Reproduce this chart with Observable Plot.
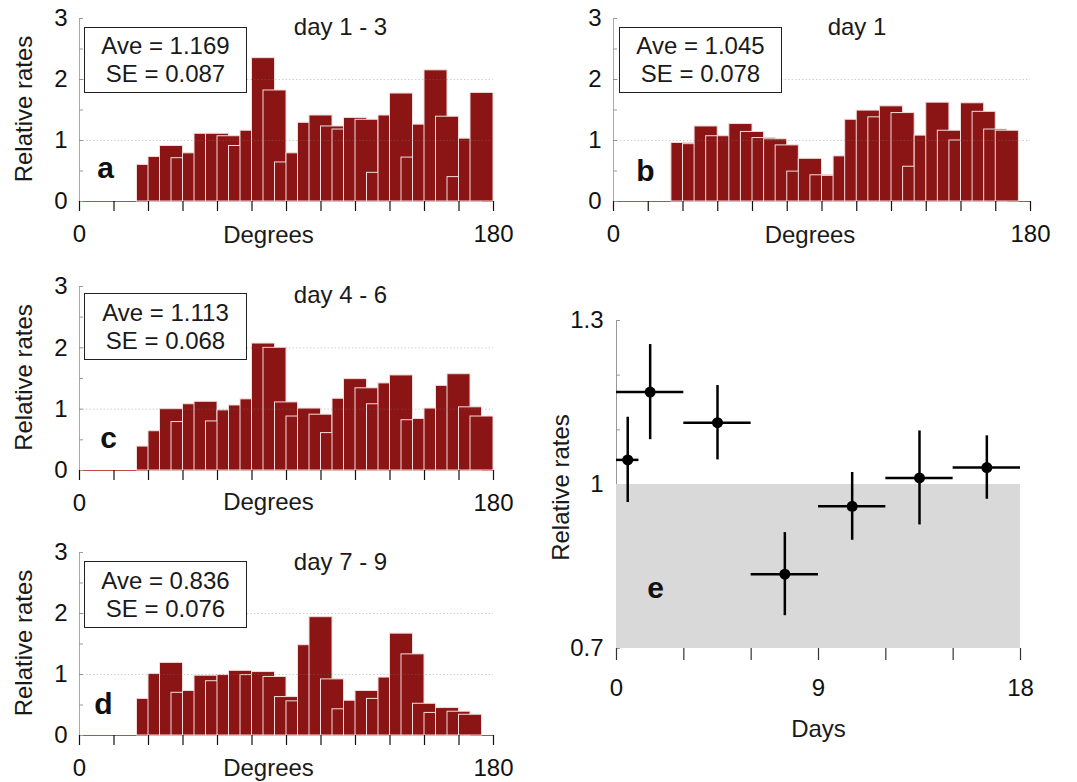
<!DOCTYPE html>
<html><head><meta charset="utf-8">
<script src="https://cdn.jsdelivr.net/npm/d3@7"></script>
<script src="https://cdn.jsdelivr.net/npm/@observablehq/plot@0.6"></script>
<style>
body{margin:0;background:#fff;}
#wrap{position:relative;width:1077px;height:782px;overflow:hidden;font-family:"Liberation Sans",Arial,sans-serif;background:#fff;}
#wrap svg{position:absolute;overflow:visible;}
.box{position:absolute;box-sizing:border-box;border:1.5px solid #222;background:#fff;display:flex;flex-direction:column;justify-content:center;align-items:center;font-size:24px;line-height:28px;color:#1a1a1a;}
</style></head><body><div id="wrap"></div>
<script>
// ---------- data ----------
const binStarts = [25,30,35,40,45,50,55,60,65,70,75,80,85,90,95,100,105,110,115,120,125,130,135,140,145,150,155,160,165,170];
const binWidth = 10;
const ratesA = [0.60,0.73,0.91,0.71,0.79,1.11,1.11,1.07,0.91,1.16,2.35,1.82,0.64,0.79,1.29,1.41,1.23,1.18,1.37,1.34,0.47,1.41,1.77,0.72,1.26,2.15,1.39,0.40,1.03,1.78];
const ratesB = [0.96,0.94,1.23,1.07,1.07,1.27,1.14,1.04,1.02,0.92,0.49,0.70,0.43,0.42,0.74,1.34,1.49,1.38,1.56,1.45,0.57,1.08,1.62,1.16,1.00,1.61,1.47,1.18,1.16];
const ratesC = [0.39,0.64,1.00,0.79,1.08,1.12,0.80,0.98,1.06,1.16,2.07,2.00,1.11,0.88,1.01,0.91,0.61,1.17,1.49,1.34,1.08,1.42,1.55,0.82,0.84,1.01,1.38,1.57,1.03,0.88];
const ratesD = [0.60,1.01,1.19,0.70,0.73,0.98,0.89,0.99,1.06,0.99,1.04,0.96,0.63,0.56,1.48,1.94,0.92,0.43,0.57,0.73,0.60,0.95,1.67,1.33,0.52,0.37,0.45,0.39,0.34];
const panelTitles = ["day 1 - 3","day 1","day 4 - 6","day 7 - 9"];
const panelLetters = ["a","b","c","d","e"];
const aveLabels = ["Ave = 1.169","Ave = 1.045","Ave = 1.113","Ave = 0.836"];
const seLabels = ["SE = 0.087","SE = 0.078","SE = 0.068","SE = 0.076"];
const degreeTicks = [0,15,30,45,60,75,90,105,120,135,150,165,180];
const degreeTickLabels = [0,180];
const rateTicks = [0,1,2,3];
const rateMinorTicks = [0,0.5,1,1.5,2,2.5,3];
const gridRates = [1,2];
// panel e
const periodStart = [0,0,3,6,9,12,15];
const periodEnd   = [1,3,6,9,12,15,18];
const periodRate  = [1.045,1.169,1.113,0.836,0.960,1.012,1.031];
const periodSE    = [0.078,0.087,0.068,0.076,0.062,0.086,0.058];
const dayTicks = [0,3,6,9,12,15,18];
const dayTickLabels = [0,9,18];
const eRateTicks = [0.7,1,1.3];
const eRateMinorTicks = [0.7,0.8,0.9,1.0,1.1,1.2,1.3];
const refBand = [{x1:0,x2:18,y1:0.7,y2:1.0}];

// ---------- layout ----------
const FONT = '"Liberation Sans", Arial, sans-serif';
const wrap = document.getElementById("wrap");
const layouts = [
  {rates: ratesA, left:0,   top:0,   w:540, h:262, ml:79, mr:47, mt:18, mb:61, ylab:true,  tdx:54, tdy:-1, ldx:26, ldy:-24, gdx:-18, gdy:41, box:[84,27,163,66]},
  {rates: ratesB, left:533, top:0,   w:540, h:262, ml:80, mr:43, mt:18, mb:61, ylab:false, tdx:35, tdy:-1, ldx:32, ldy:-21, gdx:-12, gdy:41, box:[619,27,163,66]},
  {rates: ratesC, left:0,   top:268, w:540, h:262, ml:79, mr:47, mt:18, mb:60, ylab:true,  tdx:54, tdy:-1, ldx:29, ldy:-23, gdx:-18, gdy:39, box:[84,293,163,67]},
  {rates: ratesD, left:0,   top:534, w:540, h:248, ml:79, mr:47, mt:18, mb:47, ylab:true,  tdx:54, tdy:0,  ldx:24, ldy:-22, gdx:-18, gdy:40, box:[84,561,163,67]}
];

function place(svg, left, top) {
  svg.style.left = left + "px";
  svg.style.top = top + "px";
  wrap.appendChild(svg);
}

layouts.forEach((L, i) => {
  const data = L.rates.map((v, k) => ({x1: binStarts[k], x2: binStarts[k] + binWidth, v}));
  const marks = [
    Plot.ruleY([0], {stroke: "#c04a4a", strokeWidth: 1.2}),
    Plot.ruleX([0], {stroke: "#aaa"}),
    Plot.axisY(rateMinorTicks, {tickSize: -4, tickFormat: () => "", stroke: "#999", label: null}),
    Plot.axisY(rateTicks, {tickSize: 0, tickPadding: 12, fill: "#111", tickFormat: d => String(d), label: null}),
    Plot.rect(data, {x1: "x1", x2: "x2", y1: () => 0, y2: "v", fill: "#8b1515", stroke: "#f2dcdc", strokeWidth: 1}),
    Plot.ruleY(gridRates, {stroke: "#777", strokeOpacity: 0.35, strokeDasharray: "1.5,2"}),
    Plot.axisX(degreeTicks, {tickSize: 10, tickPadding: 13, strokeWidth: 1.2, stroke: "#111", fill: "#111",
      tickFormat: d => degreeTickLabels.includes(d) ? String(d) : "", label: null}),
    Plot.text([panelTitles[i]], {text: d => d, frameAnchor: "top", dx: L.tdx, dy: L.tdy, fontSize: 24, fill: "#1a1a1a"}),
    Plot.text([panelLetters[i]], {text: d => d, frameAnchor: "bottom-left", textAnchor: "middle", dx: L.ldx, dy: L.ldy, fontSize: 30, fontWeight: "bold", fill: "#111"}),
    Plot.text(["Degrees"], {text: d => d, frameAnchor: "bottom", dx: L.gdx, dy: L.gdy, fontSize: 24, fill: "#1a1a1a"})
  ];
  if (L.ylab) marks.push(Plot.text(["Relative rates"], {text: d => d, frameAnchor: "left", textAnchor: "middle", dx: -55, dy: -1, rotate: -90, fontSize: 24, fill: "#1a1a1a"}));
  const svg = Plot.plot({
    width: L.w, height: L.h, marginLeft: L.ml, marginRight: L.mr, marginTop: L.mt, marginBottom: L.mb,
    style: {fontFamily: FONT, fontSize: "24px", background: "transparent", color: "#1a1a1a"},
    x: {domain: [0, 180]}, y: {domain: [0, 3]},
    marks
  });
  place(svg, L.left, L.top);
  const box = document.createElement("div");
  box.className = "box";
  box.style.left = L.box[0] + "px"; box.style.top = L.box[1] + "px";
  box.style.width = L.box[2] + "px"; box.style.height = L.box[3] + "px";
  const l1 = document.createElement("div"); l1.textContent = aveLabels[i];
  const l2 = document.createElement("div"); l2.textContent = seLabels[i];
  box.appendChild(l1); box.appendChild(l2);
  wrap.appendChild(box);
});

// ---------- panel e ----------
const periods = periodStart.map((s, k) => ({start: s, end: periodEnd[k], mid: (s + periodEnd[k]) / 2, rate: periodRate[k], se: periodSE[k]}));
const svgE = Plot.plot({
  width: 544, height: 470, marginLeft: 83, marginRight: 57, marginTop: 30, marginBottom: 112,
  style: {fontFamily: FONT, fontSize: "24px", background: "transparent", color: "#1a1a1a"},
  x: {domain: [0, 18]}, y: {domain: [0.7, 1.3]},
  marks: [
    Plot.ruleX([0], {stroke: "#999"}),
    Plot.axisY(eRateMinorTicks, {tickSize: -4, tickFormat: () => "", stroke: "#999", label: null}),
    Plot.rect(refBand, {x1: "x1", x2: "x2", y1: "y1", y2: "y2", fill: "#d9d9d9"}),
    Plot.axisY(eRateTicks, {tickSize: 0, tickPadding: 13, tickFormat: d => String(d), fill: "#111", label: null}),
    Plot.axisX(dayTicks, {tickSize: 12, tickPadding: 18, strokeWidth: 1.2, stroke: "#333", fill: "#111",
      tickFormat: d => dayTickLabels.includes(d) ? String(d) : "", label: null}),
    Plot.ruleY(periods, {y: "rate", x1: "start", x2: "end", stroke: "#000", strokeWidth: 2.5}),
    Plot.ruleX(periods, {x: "mid", y1: d => d.rate - d.se, y2: d => d.rate + d.se, stroke: "#000", strokeWidth: 2.5}),
    Plot.dot(periods, {x: "mid", y: "rate", r: 5.5, fill: "#000", stroke: "none"}),
    Plot.text([panelLetters[4]], {text: d => d, frameAnchor: "bottom-left", textAnchor: "middle", dx: 39, dy: -51, fontSize: 30, fontWeight: "bold", fill: "#111"}),
    Plot.text(["Relative rates"], {text: d => d, frameAnchor: "left", textAnchor: "middle", dx: -55, dy: 3, rotate: -90, fontSize: 24, fill: "#1a1a1a"}),
    Plot.text(["Days"], {text: d => d, frameAnchor: "bottom", dx: 0, dy: 88, fontSize: 24, fill: "#1a1a1a"})
  ]
});
place(svgE, 533, 290);
</script></body></html>
